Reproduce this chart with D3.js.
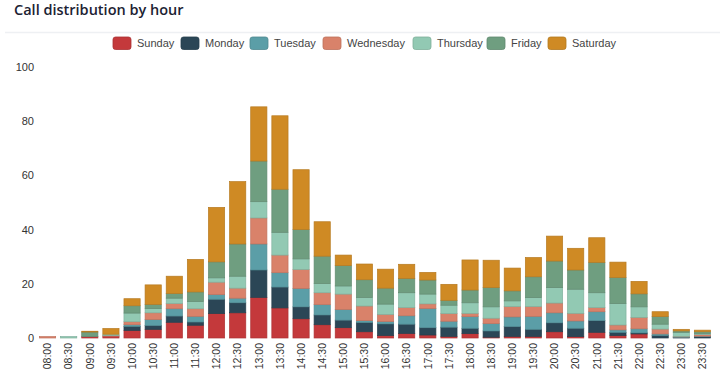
<!DOCTYPE html>
<html><head><meta charset="utf-8">
<script src="https://cdn.jsdelivr.net/npm/d3@7"></script>
<style>body{margin:0;background:#fff;}svg{display:block;}</style>
</head><body><svg id="c" width="720" height="379"></svg>
<script>
const hours = ["08:00","08:30","09:00","09:30","10:00","10:30","11:00","11:30","12:00","12:30","13:00","13:30","14:00","14:30","15:00","15:30","16:00","16:30","17:00","17:30","18:00","18:30","19:00","19:30","20:00","20:30","21:00","21:30","22:00","22:30","23:00","23:30"];
const seriesNames = ["Sunday","Monday","Tuesday","Wednesday","Thursday","Friday","Saturday"];
const seriesColors = ["#c4393b","#2b4656","#5b9ea7","#d9826a","#92c9b3","#6f9e80","#cf8a24"];
const sunday    = [0,0,0.5,0.7,2.8,3.2,5.8,4.7,9.0,9.3,15.0,11.1,7.1,4.9,3.8,2.3,0.9,1.7,1.1,0.6,1.6,0.3,0.6,0.6,2.3,0.5,2.1,0.9,1.5,0,0,0];
const monday    = [0,0,0,0,1.5,1.4,2.3,1.2,5.3,3.7,10.1,7.7,4.4,3.6,2.8,3.4,4.3,3.4,2.7,3.4,2.0,2.3,3.6,2.6,3.3,3.1,4.3,1.2,0.4,0.9,0.2,0.5];
const tuesday   = [0,0,0,0,0.6,2.2,2.7,2.1,1.7,1.7,9.6,5.3,6.8,3.8,3.9,0.7,0.9,3.1,7.1,2.2,4.3,2.7,3.6,4.8,3.7,2.7,3.3,0.9,1.5,0.6,0.2,0.2];
const wednesday = [0.5,0,0,0.2,1.1,2.5,1.9,2.8,4.6,3.7,9.6,6.5,7.0,4.4,5.7,5.4,2.6,3.0,1.7,2.8,1.2,2.0,3.8,3.6,3.6,2.8,1.5,1.8,4.2,1.8,0.2,0.6];
const thursday  = [0,0.5,0,0.5,3.2,1.6,2.0,2.7,1.6,4.4,6.0,8.4,3.9,3.4,3.0,3.2,3.8,5.5,3.6,3.1,3.9,4.2,2.1,3.3,5.7,8.9,5.5,7.9,3.9,1.8,1.5,0.4];
const friday    = [0,0,1.7,0,2.7,1.5,1.7,3.5,5.9,11.9,15.0,15.9,10.8,10.1,7.5,6.5,5.9,5.3,5.2,1.8,4.7,7.1,3.7,7.7,9.8,7.1,11.2,9.6,4.8,2.8,0.5,0.6];
const saturday  = [0,0,0.3,2.1,2.6,7.2,6.4,12.0,20.1,23.0,20.0,27.1,22.1,12.7,3.9,5.8,7.0,5.2,2.8,5.9,11.1,10.1,8.4,7.1,9.2,8.0,9.1,5.7,4.6,1.8,0.6,0.6];
const seriesValues = [sunday,monday,tuesday,wednesday,thursday,friday,saturday];
const yTicks = [0,20,40,60,80,100];

const svg = d3.select("#c");
const W = 720, H = 379;
const m = {left: 37, right: 7, top: 67, bottom: 41};

// title
svg.append("text").attr("x",14).attr("y",15).text("Call distribution by hour")
  .attr("font-family","'Open Sans', 'Noto Sans', sans-serif").attr("font-weight",600)
  .attr("font-size",14.5).attr("fill","#1c2233");
svg.append("line").attr("x1",5).attr("x2",W).attr("y1",32.5).attr("y2",32.5)
  .attr("stroke","#eef0f3").attr("stroke-width",1.5);

const rows = hours.map((h,i)=>{const r={hour:h}; seriesNames.forEach((s,j)=>r[s]=seriesValues[j][i]); return r;});
const stack = d3.stack().keys(seriesNames)(rows);

const x = d3.scaleBand().domain(hours).range([m.left, W-m.right]).paddingInner(0.2).paddingOuter(0.1);
const y = d3.scaleLinear().domain([0,100]).range([H-m.bottom, m.top]);
const color = d3.scaleOrdinal().domain(seriesNames).range(seriesColors);

const g = svg.append("g");
g.selectAll("g.s").data(stack).join("g").attr("class","s")
  .attr("fill",d=>color(d.key))
  .attr("stroke",d=>d3.color(color(d.key)).darker(0.35))
  .attr("stroke-width",0.7)
  .selectAll("rect").data(d=>d.filter(p=>p[1]-p[0]>0)).join("rect")
  .attr("x",d=>x(d.data.hour)+0.35).attr("width",x.bandwidth()-0.7)
  .attr("y",d=>y(d[1])).attr("height",d=>Math.max(0.3,y(d[0])-y(d[1])));

// y axis
const ya = svg.append("g").attr("transform",`translate(${m.left-3},0)`)
  .call(d3.axisLeft(y).tickValues(yTicks).tickSize(0).tickPadding(0));
ya.select(".domain").remove();
ya.selectAll("text").attr("font-family","'Liberation Sans', Arial, sans-serif").attr("font-size",11).attr("fill","#333");

// x axis
const xa = svg.append("g").attr("transform",`translate(0,${H-m.bottom})`)
  .call(d3.axisBottom(x).tickSize(0).tickPadding(0));
xa.select(".domain").remove();
xa.selectAll("text").attr("font-family","'Liberation Sans', Arial, sans-serif").attr("font-size",10.5).attr("fill","#333")
  .attr("text-anchor","end").attr("dy","0.35em")
  .attr("transform","translate(0,5) rotate(-90)");

// legend
const legendX = [113,181,250,323,413,487,548];
const lg = svg.append("g");
seriesNames.forEach((s,i)=>{
  const it = lg.append("g").attr("transform",`translate(${legendX[i]},37)`);
  it.append("rect").attr("width",18).attr("height",12.5).attr("rx",2.5)
    .attr("fill",seriesColors[i]).attr("stroke",d3.color(seriesColors[i]).darker(0.4)).attr("stroke-width",0.8);
  it.append("text").attr("x",24).attr("y",10).text(s)
    .attr("font-family","'Liberation Sans', Arial, sans-serif").attr("font-size",11).attr("fill","#444");
});
</script></body></html>
